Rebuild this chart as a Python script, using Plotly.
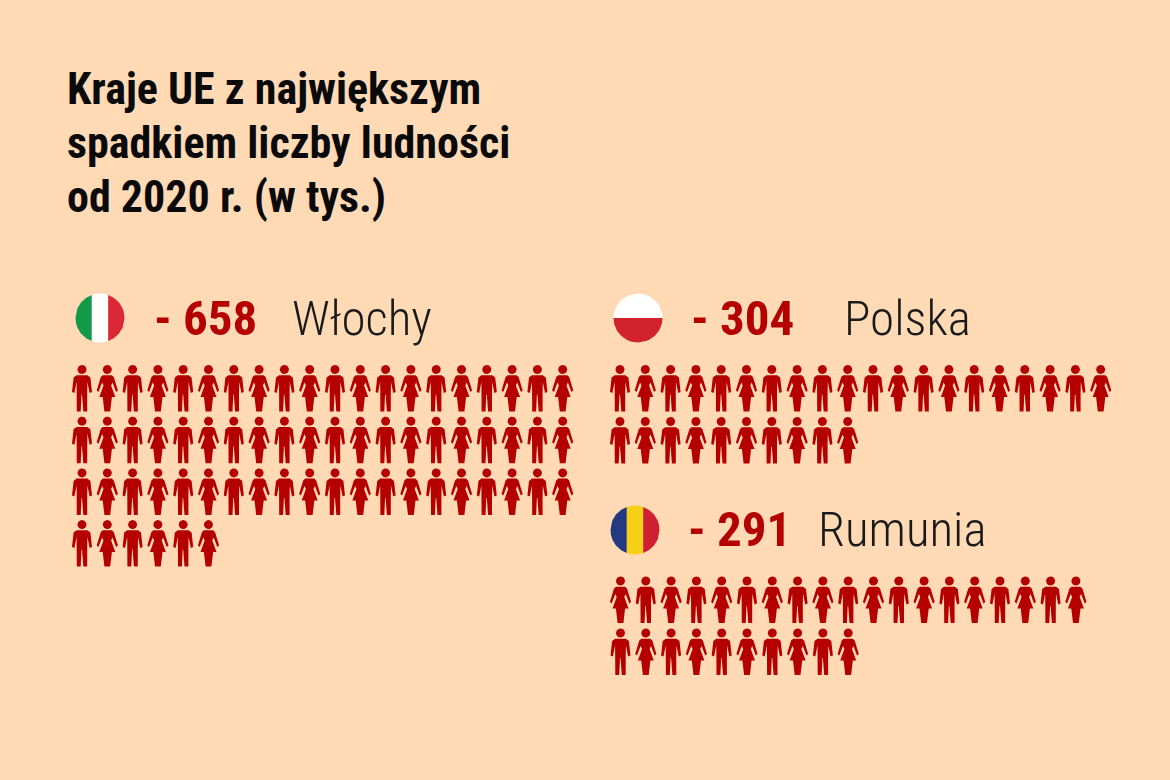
import numpy as np
import plotly.graph_objects as go

BG = "#FFDAB5"
RED = "#B40000"
NARROW = "Roboto Condensed, Liberation Sans Narrow, Roboto, sans-serif"

title_lines = ["Kraje UE z największym", "spadkiem liczby ludności", "od 2020 r. (w tys.)"]
countries = ["Włochy", "Polska", "Rumunia"]
values = [658, 304, 291]
icons_per_row = [20, 20, 19]
# first-icon kind in each row: 0 man, 1 woman
row_starts = [[0, 0, 0, 0], [0, 0], [1, 0]]
icon_x0 = [82, 620, 620.5]
icon_y0 = [369.5, 369.5, 581]
row_pitch = [51.7, 52, 52]
step = 25.3
num_x = [152, 689, 686]
num_y = [318, 318, 529]
name_x = [290, 842, 816]
flag_cx = [100, 638, 635]
flag_cy = [318, 318, 530]
flag_r = 24.5
flags = [
    ("v", ["#129A4A", "#FFFFFF", "#DC2836"]),
    ("h", ["#FFFFFF", "#D2232D"]),
    ("v", ["#24397F", "#F6D016", "#CE2030"]),
]

def head():
    t = np.linspace(0, 2 * np.pi, 25)
    return list(4.5 * np.cos(t)), list(4.5 * np.sin(t))

man_half = [(0, 5.7), (5.4, 5.7), (8.4, 8.0), (10.0, 22.5), (7.6, 23.5), (5.4, 12.5), (5.2, 24),
            (5.2, 42), (1.3, 42), (0.5, 25), (0, 25)]
woman_half = [(0, 5.7), (4.5, 5.7), (6.5, 7.5), (10.6, 21), (8.8, 22.5), (5.2, 13), (3.8, 16),
              (8.0, 27.5), (4.6, 27.5), (2.9, 42), (0, 42)]

def glyph(half):
    xs = [p[0] for p in half] + [-p[0] for p in reversed(half)]
    ys = [p[1] for p in half] + [p[1] for p in reversed(half)]
    hx, hy = head()
    return xs, ys, hx, hy

GLYPHS = [glyph(man_half), glyph(woman_half)]

fig = go.Figure()

def add_icons(idx):
    n = values[idx] // 10 + (1 if values[idx] % 10 >= 5 else 0)
    px, py = [], []
    drawn = 0
    row = 0
    while drawn < n:
        k = min(n - drawn, icons_per_row[idx])
        for c in range(k):
            cx = icon_x0[idx] + c * step
            cy = icon_y0[idx] + row * row_pitch[idx]
            gx, gy, hx, hy = GLYPHS[(row_starts[idx][row] + c) % 2]
            px += [cx + v for v in gx] + [None] + [cx + v for v in hx] + [None]
            py += [cy + v for v in gy] + [None] + [cy + v for v in hy] + [None]
        drawn += k
        row += 1
    fig.add_trace(go.Scatter(x=px, y=py, mode="lines", fill="toself", fillcolor=RED,
                             line=dict(width=0, color=RED), hoverinfo="skip", showlegend=False))

def add_flag(idx):
    kind, cols = flags[idx]
    n = len(cols)
    cx, cy = flag_cx[idx], flag_cy[idx]
    for i, col in enumerate(cols):
        a, b = -flag_r + 2 * flag_r * i / n, -flag_r + 2 * flag_r * (i + 1) / n
        s = np.linspace(a, b, 30)
        w = np.sqrt(np.maximum(flag_r ** 2 - s ** 2, 0))
        along = np.r_[s, s[::-1], s[0]]
        across = np.r_[-w, w[::-1], -w[0]]
        xs, ys = (along, across) if kind == "v" else (across, along)
        fig.add_trace(go.Scatter(x=cx + xs, y=cy + ys, mode="lines", fill="toself", fillcolor=col,
                                 line=dict(width=0, color=col), hoverinfo="skip", showlegend=False))

for i in range(3):
    add_flag(i)
    add_icons(i)

ann = []
for i, line in enumerate(title_lines):
    ann.append(dict(x=65, y=89 + i * 54, text=f"<b>{line}</b>", xanchor="left", yanchor="middle",
                    showarrow=False, font=dict(family=NARROW, size=44, color="#0A0A0A")))
for i in range(3):
    ann.append(dict(x=num_x[i], y=num_y[i], text=f"<b>- {values[i]}</b>", xanchor="left", yanchor="middle",
                    showarrow=False, font=dict(family=NARROW, size=49, color=RED)))
    ann.append(dict(x=name_x[i], y=num_y[i], text=countries[i], xanchor="left", yanchor="middle",
                    showarrow=False, font=dict(family=NARROW, size=49, weight=300, color="#1A1A1A")))

fig.update_layout(
    width=1170, height=780, margin=dict(l=0, r=0, t=0, b=0),
    paper_bgcolor=BG, plot_bgcolor=BG, annotations=ann, showlegend=False,
    xaxis=dict(range=[0, 1170], visible=False, fixedrange=True),
    yaxis=dict(range=[780, 0], visible=False, fixedrange=True),
)
fig.write_html("out.html", config=dict(displayModeBar=False),
               post_script="document.body.style.margin='0';document.documentElement.style.background='%s';" % BG)
